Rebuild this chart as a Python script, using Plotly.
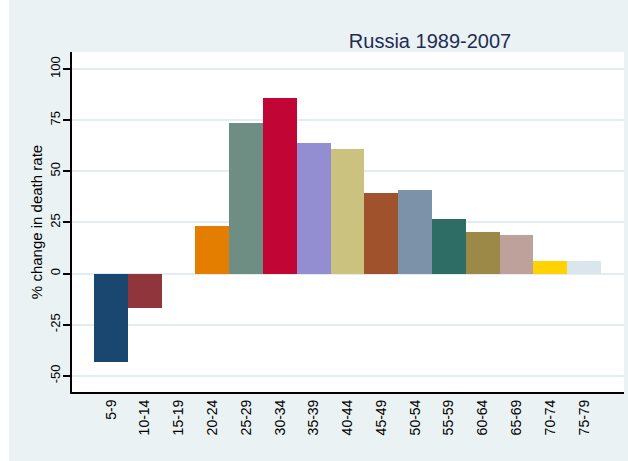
import plotly.graph_objects as go

# Age groups and percentage change in death rate, Russia 1989-2007
age_groups = ["5-9", "10-14", "15-19", "20-24", "25-29", "30-34", "35-39", "40-44",
              "45-49", "50-54", "55-59", "60-64", "65-69", "70-74", "75-79"]
pct_change = [-43.1, -17.0, 0.0, 23.4, 73.4, 85.7, 64.0, 61.0,
              39.4, 40.7, 26.8, 20.1, 18.7, 6.1, 6.3]

# Stata s2color palette, one colour per age group
bar_colors = ["#1a476f", "#90353b", "#55752f", "#e37e00", "#6e8e84", "#c10534",
              "#938dd2", "#cac27e", "#a0522d", "#7b92a8", "#2d6d66", "#9c8847",
              "#bfa19c", "#ffd200", "#d9e6eb"]

y_ticks = [-50, -25, 0, 25, 50, 75, 100]

FONT = "Arial, Liberation Sans, sans-serif"
BG = "#eaf2f3"

fig = go.Figure(
    go.Bar(
        x=list(range(len(age_groups))),
        y=pct_change,
        marker=dict(color=bar_colors, line=dict(width=0)),
        width=1.0,
        showlegend=False,
    )
)

W, H = 628, 461
L, R, T, B = 72, 4, 52, 69
pw, ph = W - L - R, H - T - B

fig.update_layout(
    width=W, height=H,
    margin=dict(l=L, r=R, t=T, b=B),
    paper_bgcolor=BG,
    plot_bgcolor="white",
    bargap=0,
    font=dict(family=FONT, color="black"),
    title=dict(
        text="Russia 1989-2007",
        font=dict(size=20, color="#1f2d55", family=FONT),
        x=430 / W, xanchor="center",
        y=1 - 41 / H, yanchor="middle",
    ),
    xaxis=dict(
        range=[-1.154, 15.18],
        tickmode="array",
        tickvals=list(range(len(age_groups))),
        ticktext=age_groups,
        tickangle=-90,
        tickfont=dict(size=14, family=FONT),
        ticks="",
        showgrid=False,
        zeroline=False,
        showline=True, linecolor="black", linewidth=2,
        fixedrange=True,
    ),
    yaxis=dict(
        range=[-57.9, 108.3],
        tickmode="array",
        tickvals=y_ticks,
        ticktext=[str(v) for v in y_ticks],
        tickangle=-90,
        tickfont=dict(size=13, family=FONT),
        ticklabelstandoff=-2,
        ticks="outside", ticklen=7, tickwidth=1.5, tickcolor="black",
        showgrid=True, gridcolor="#e3ecee", gridwidth=2,
        zeroline=False,
        showline=True, linecolor="black", linewidth=2,
        title=dict(text="% change in death rate", font=dict(size=15, family=FONT),
                   standoff=2),
        fixedrange=True,
    ),
)

# white strips along the left and top page edges
fig.add_shape(type="rect", xref="paper", yref="paper", layer="below",
              x0=-L / pw, x1=(9 - L) / pw, y0=-B / ph, y1=(H - T) / ph,
              fillcolor="white", line=dict(width=0))
fig.add_shape(type="rect", xref="paper", yref="paper", layer="below",
              x0=-L / pw, x1=(W - L) / pw, y0=(H - T - 8) / ph, y1=(H - T) / ph,
              fillcolor="white", line=dict(width=0))

fig.write_html("out.html")
